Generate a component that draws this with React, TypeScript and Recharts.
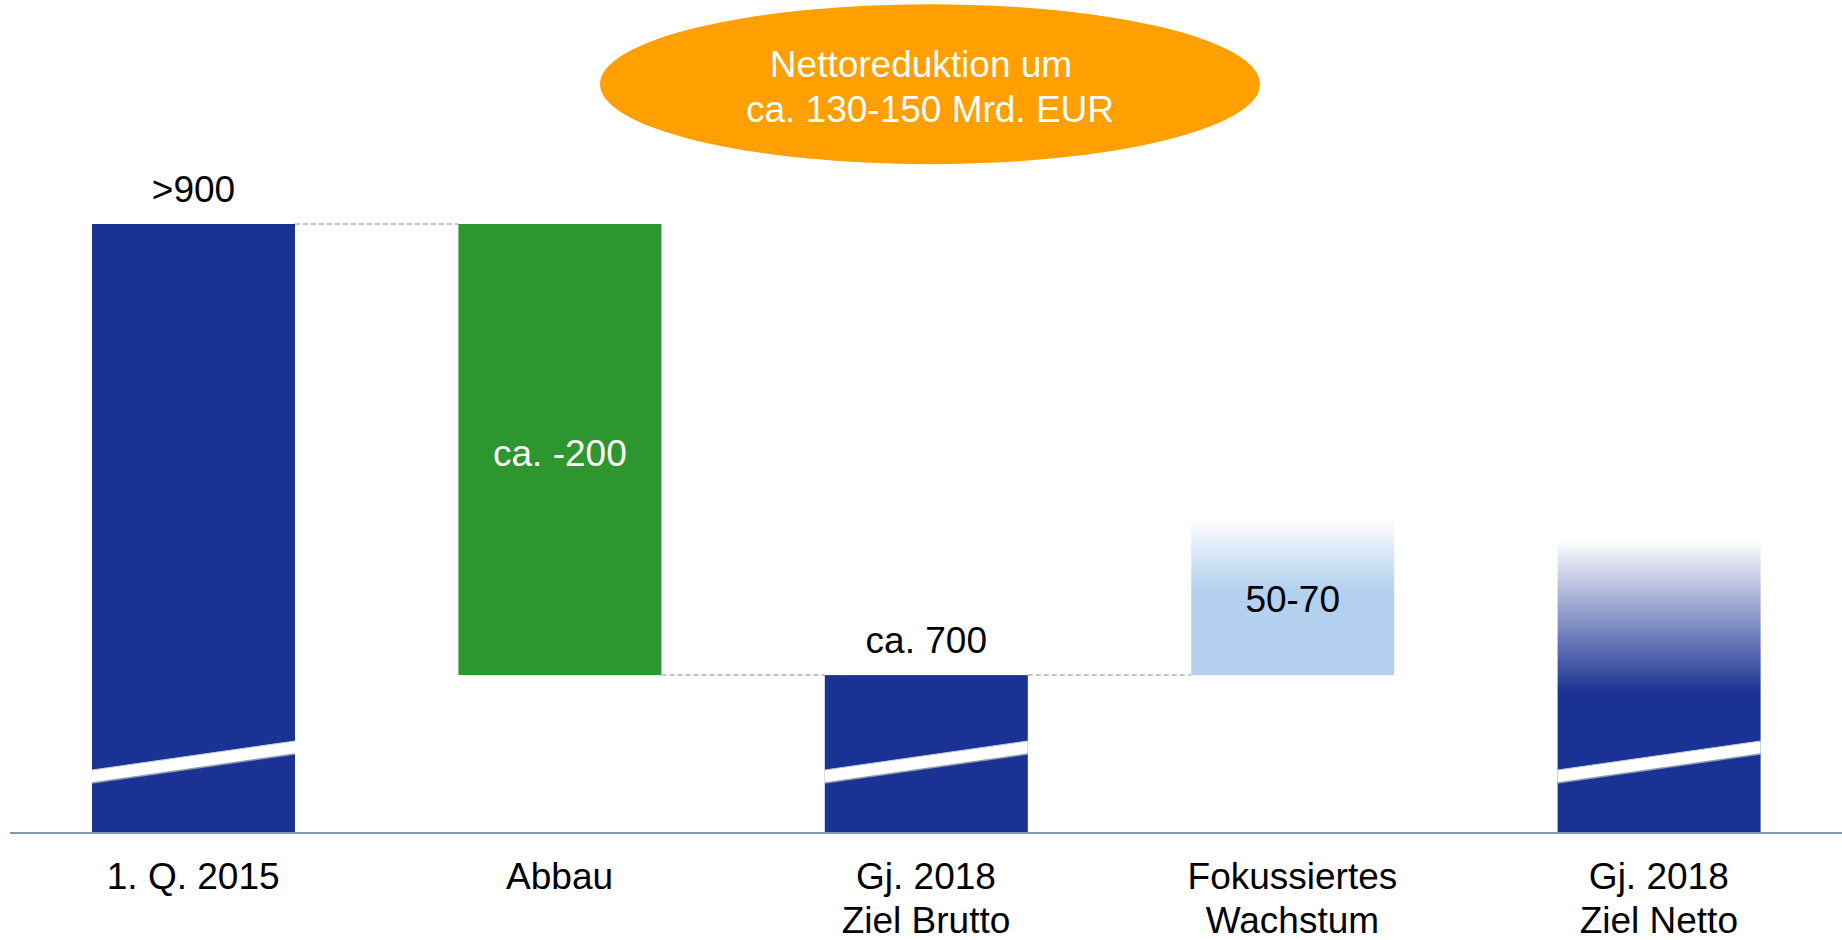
import { Bar, BarChart, LabelList, ReferenceDot, XAxis, YAxis } from "recharts";

// Werte in Mrd. EUR; die Achse ist bei 630 abgeschnitten (Bruchstrich in den Säulen)
const categories = ["1. Q. 2015", "Abbau", "Gj. 2018\nZiel Brutto", "Fokussiertes\nWachstum", "Gj. 2018\nZiel Netto"];
const lows = [630, 700, 630, 700, 630];
const highs = [900, 900, 700, 770, 760];
const kinds = ["total", "down", "total", "up", "net"];
const valueLabels = [">900", "ca. -200", "ca. 700", "50-70", ""];
const noteLines = ["Nettoreduktion um", "ca. 130-150 Mrd. EUR"];

const data = categories.map((name, i) => ({
    name,
    low: lows[i],
    high: highs[i],
    kind: kinds[i],
    label: valueLabels[i],
}));

const W = 1842;
const H = 940;
const M = { top: 21, right: 0, left: 10, bottom: 0 };
const BAND = (W - M.left - M.right) / categories.length;
const FONT = "'Liberation Sans', Arial, sans-serif";
const FS = 37;

const NAVY = "#1a3294";
const GREEN = "#2e962e";
const LIGHT = "#b4d1ef";

const fills: Record<string, string> = {
    total: NAVY,
    down: GREEN,
    up: "url(#gradUp)",
    net: "url(#gradNet)",
};

function BarShape(props: any) {
    const { x, y, width, height, index } = props;
    const kind = kinds[index];
    const b = y + height;
    const hasBreak = kind === "total" || kind === "net";
    let linkY: number | null = null;
    if (kind === "total" && index < categories.length - 1) linkY = y;
    if (kind === "down") linkY = b;

    return (
        <g>
            <rect x={x} y={y} width={width} height={height + (kind === "net" ? 2 : 0)} fill={fills[kind]} />
            {hasBreak && (
                <g>
                    <polygon
                        points={`${x},${b - 63} ${x + width},${b - 92} ${x + width},${b - 79} ${x},${b - 50}`}
                        fill="#fff"
                    />
                    <line x1={x} y1={b - 50} x2={x + width} y2={b - 79} stroke="#8d9db2" strokeWidth={1.5} />
                    <line x1={x} y1={b - 63} x2={x + width} y2={b - 92} stroke="#c3ccd8" strokeWidth={1} />
                </g>
            )}
            {linkY !== null && (
                <line
                    x1={x + width}
                    y1={linkY}
                    x2={x + BAND}
                    y2={linkY}
                    stroke="#a7b4c6"
                    strokeWidth={1.5}
                    strokeDasharray="5 3"
                />
            )}
        </g>
    );
}

function ValueLabel(props: any) {
    const { x, y, width, height, index, value } = props;
    if (!value) return null;
    const kind = kinds[index];
    const cx = x + width / 2;
    const ty = kind === "total" ? y - 22 : y + height / 2 + 16;
    return (
        <text
            x={cx}
            y={ty}
            textAnchor="middle"
            fontSize={FS}
            fontFamily={FONT}
            fill={kind === "down" ? "#fff" : "#000"}
        >
            {value}
        </text>
    );
}

function Tick(props: any) {
    const { x, y, payload } = props;
    const lines = String(payload.value).split("\n");
    return (
        <text x={x} y={y} textAnchor="middle" fontSize={FS} fontFamily={FONT} fill="#000">
            {lines.map((l, i) => (
                <tspan key={i} x={x} y={y + 56 + i * 44}>
                    {l}
                </tspan>
            ))}
        </text>
    );
}

function NoteEllipse(props: any) {
    const cx = props.cx + 4;
    const cy = props.cy;
    return (
        <g>
            <ellipse cx={cx} cy={cy} rx={330} ry={80} fill="#ffa000" />
            <text x={cx - 9} y={cy - 7} textAnchor="middle" fontSize={FS} fontFamily={FONT} fill="#fff">
                {noteLines[0]}
            </text>
            <text x={cx} y={cy + 38} textAnchor="middle" fontSize={FS} fontFamily={FONT} fill="#fff">
                {noteLines[1]}
            </text>
        </g>
    );
}

export default function App() {
    return (
        <div style={{ position: "absolute", left: 0, top: 0, background: "#fff" }}>
            <BarChart width={W} height={H} data={data} margin={M}>
                <defs>
                    <linearGradient id="gradUp" x1="0" y1="0" x2="0" y2="1">
                        <stop offset="0" stopColor={LIGHT} stopOpacity={0} />
                        <stop offset="0.46" stopColor={LIGHT} stopOpacity={1} />
                        <stop offset="1" stopColor={LIGHT} stopOpacity={1} />
                    </linearGradient>
                    <linearGradient id="gradNet" x1="0" y1="0" x2="0" y2="1">
                        <stop offset="0" stopColor={NAVY} stopOpacity={0} />
                        <stop offset="0.52" stopColor={NAVY} stopOpacity={1} />
                        <stop offset="1" stopColor={NAVY} stopOpacity={1} />
                    </linearGradient>
                </defs>
                <XAxis
                    dataKey="name"
                    height={107}
                    tickLine={false}
                    tickSize={0}
                    tickMargin={0}
                    interval={0}
                    axisLine={{ stroke: "#8497ab", strokeWidth: 2 }}
                    tick={<Tick />}
                />
                <YAxis hide domain={[630, 990]} allowDataOverflow />
                <Bar
                    dataKey={(d: any) => [d.low, d.high]}
                    barSize={203}
                    shape={<BarShape />}
                    isAnimationActive={false}
                >
                    <LabelList dataKey="label" content={<ValueLabel />} />
                </Bar>
                <ReferenceDot x={categories[2]} y={962} shape={<NoteEllipse />} ifOverflow="visible" />
            </BarChart>
        </div>
    );
}
